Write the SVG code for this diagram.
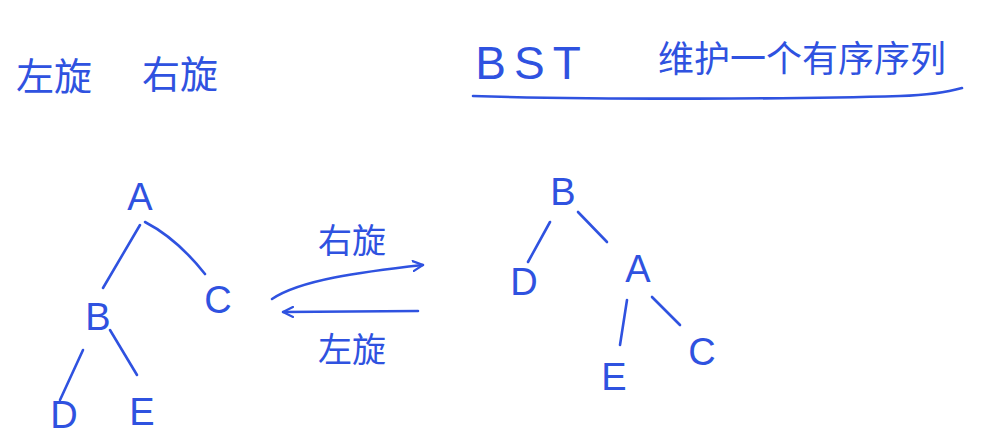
<svg xmlns="http://www.w3.org/2000/svg" width="990" height="448" viewBox="0 0 990 448">
<style>
.t{font-family:"Noto Sans CJK SC","Noto Sans",sans-serif;fill:#2f52e0;}
.n{font-family:"Liberation Sans","DejaVu Sans",sans-serif;fill:#2f52e0;font-size:38px;text-anchor:middle;}
.e{fill:none;stroke:#2f52e0;stroke-width:2.6;stroke-linecap:round;}
</style>
<defs>
<marker id="ah" viewBox="0 0 12 12" refX="11" refY="6" markerWidth="12" markerHeight="12" markerUnits="userSpaceOnUse" orient="auto">
<path d="M1,1 L11,6 L1,11" fill="none" stroke="#2f52e0" stroke-width="2.2" stroke-linecap="round"/>
</marker>
</defs>
<rect width="990" height="448" fill="#ffffff"/>
<g id="title-left">
<text class="t" x="16" y="90" font-size="38">左旋</text>
<text class="t" x="142" y="88" font-size="38">右旋</text>
</g>
<g id="title-right">
<text class="n" x="532" y="79" style="font-size:46px" letter-spacing="8">BST</text>
<text class="t" x="658" y="72" font-size="36">维护一个有序序列</text>
<path class="e" d="M473,96 C600,100 800,99 900,96 C930,95 948,92 962,88"/>
</g>
<g id="connectors">
<path class="e" d="M140,225 L103,288"/>
<path class="e" d="M145,222 C170,235 190,255 205,274"/>
<path class="e" d="M83,350 L60,400"/>
<path class="e" d="M110,330 L137,375"/>
<path class="e" d="M550,222 L528,262"/>
<path class="e" d="M578,212 L607,242"/>
<path class="e" d="M627,300 L620,345"/>
<path class="e" d="M652,297 L680,325"/>
<path class="e" d="M272,299 C300,280 360,272 423,265" marker-end="url(#ah)"/>
<path class="e" d="M418,311 L283,312" marker-end="url(#ah)"/>
<text class="t" x="318" y="253" font-size="34">右旋</text>
<text class="t" x="318" y="362" font-size="34">左旋</text>
</g>
<g id="node-A-left"><text class="n" x="140" y="210">A</text></g>
<g id="node-B-left"><text class="n" x="98" y="330">B</text></g>
<g id="node-C-left"><text class="n" x="218" y="313">C</text></g>
<g id="node-D-left"><text class="n" x="64" y="428">D</text></g>
<g id="node-E-left"><text class="n" x="142" y="425">E</text></g>
<g id="node-B-right"><text class="n" x="563" y="205">B</text></g>
<g id="node-D-right"><text class="n" x="524" y="295">D</text></g>
<g id="node-A-right"><text class="n" x="638" y="282">A</text></g>
<g id="node-E-right"><text class="n" x="614" y="390">E</text></g>
<g id="node-C-right"><text class="n" x="702" y="365">C</text></g>
</svg>
